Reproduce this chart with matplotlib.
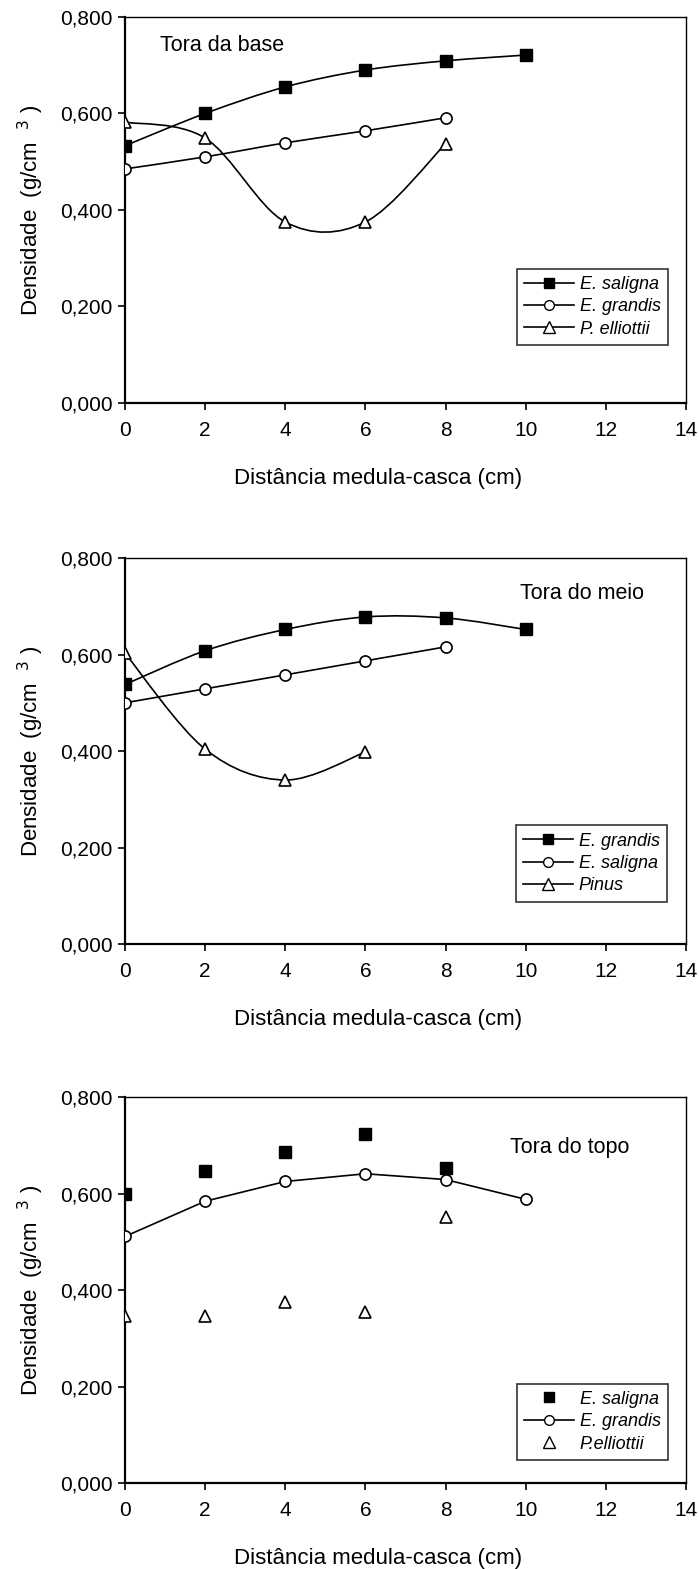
import matplotlib
matplotlib.use("Agg")
import matplotlib.pyplot as plt
from matplotlib.path import Path
from matplotlib.patches import PathPatch
from matplotlib.lines import Line2D
import numpy as np

plt.rcParams['font.family'] = ['Liberation Sans', 'DejaVu Sans']

# distancia medula-casca (cm)
x_base = [0, 2, 4, 6, 8, 10]
base_saligna = [0.533, 0.600, 0.655, 0.690, 0.709, 0.721]
base_grandis = [0.485, 0.510, 0.539, 0.564, 0.591]
base_elliottii = [0.582, 0.549, 0.375, 0.375, 0.537]

meio_grandis = [0.538, 0.608, 0.652, 0.678, 0.676, 0.652]
meio_saligna = [0.500, 0.529, 0.558, 0.587, 0.616]
meio_pinus = [0.603, 0.404, 0.340, 0.398]

topo_saligna = [0.600, 0.646, 0.687, 0.724, 0.653]
topo_grandis = [0.511, 0.584, 0.625, 0.641, 0.629, 0.588]
topo_elliottii = [0.347, 0.347, 0.376, 0.354, 0.552]

xticks = [0, 2, 4, 6, 8, 10, 12, 14]
yticks = [0.0, 0.2, 0.4, 0.6, 0.8]
ytick_labels = ['0,000', '0,200', '0,400', '0,600', '0,800']

FS = 15


def smooth_line(ax, x, y, zorder=2):
    # Excel-like smoothed line: cubic Bezier through the points
    p = np.column_stack([x, y]).astype(float)
    n = len(p)
    verts = [p[0]]
    codes = [Path.MOVETO]
    for i in range(n - 1):
        p0 = p[i - 1] if i > 0 else p[i]
        p3 = p[i + 2] if i + 2 < n else p[i + 1]
        c1 = p[i] + (p[i + 1] - p0) / 6.0
        c2 = p[i + 1] - (p3 - p[i]) / 6.0
        verts += [c1, c2, p[i + 1]]
        codes += [Path.CURVE4] * 3
    ax.add_patch(PathPatch(Path(verts, codes), fill=False, lw=1.2,
                           edgecolor='black', zorder=zorder))


def markers(ax, x, y, kind):
    if kind == 's':
        ax.plot(x, y, ls='none', marker='s', ms=8, mfc='black', mec='black', zorder=4)
    elif kind == 'o':
        ax.plot(x, y, ls='none', marker='o', ms=8, mfc='white', mec='black', mew=1.2, zorder=4)
    else:
        ax.plot(x, y, ls='none', marker='^', ms=9, mfc='white', mec='black', mew=1.2, zorder=4)


def style(ax, title, tx, ty):
    ax.set_xlim(0, 14)
    ax.set_ylim(0, 0.8)
    ax.set_xticks(xticks)
    ax.set_yticks(yticks)
    ax.set_yticklabels(ytick_labels)
    ax.tick_params(direction='out', length=5, width=1.2, labelsize=FS, pad=4)
    ax.tick_params(axis='x', pad=8)
    for s in ['left', 'bottom']:
        ax.spines[s].set_linewidth(1.6)
    for s in ['top', 'right']:
        ax.spines[s].set_linewidth(1.0)
    ax.set_ylabel('Densidade  (g/cm  $^{3}$ )', fontsize=16)
    ax.yaxis.set_label_coords(-0.14, 0.5)
    ax.set_xlabel('Distância medula-casca (cm)', fontsize=16)
    ax.xaxis.set_label_coords(0.451, -0.168)
    ax.text(tx, ty, title, transform=ax.transAxes, fontsize=15.5, va='center', ha='left')
    for lab in ax.get_xticklabels() + ax.get_yticklabels():
        lab.set_clip_on(False)


def legend(ax, handles, labels, bbox):
    leg = ax.legend(handles, labels, loc='lower right', bbox_to_anchor=bbox,
                    prop={'style': 'italic', 'size': 13}, frameon=True, fancybox=False,
                    edgecolor='black', handlelength=2.8, handletextpad=0.3,
                    borderpad=0.4, labelspacing=0.3, borderaxespad=0)
    leg.get_frame().set_linewidth(1.2)


def h(kind, line=True):
    if kind == 's':
        return Line2D([], [], color='black', lw=1.2 if line else 0, ls='-' if line else 'none',
                      marker='s', ms=7, mfc='black', mec='black')
    if kind == 'o':
        return Line2D([], [], color='black', lw=1.2 if line else 0, ls='-' if line else 'none',
                      marker='o', ms=7, mfc='white', mec='black')
    return Line2D([], [], color='black', lw=1.2 if line else 0, ls='-' if line else 'none',
                  marker='^', ms=8, mfc='white', mec='black')


fig = plt.figure(figsize=(6.99, 15.69), dpi=100)
L, W, H = 0.1788, 0.8026, 0.2460

# Tora da base
ax1 = fig.add_axes([L, 0.7432, W, H])
smooth_line(ax1, x_base, base_saligna)
smooth_line(ax1, x_base[:5], base_grandis)
smooth_line(ax1, x_base[:5], base_elliottii)
markers(ax1, x_base, base_saligna, 's')
markers(ax1, x_base[:5], base_grandis, 'o')
markers(ax1, x_base[:5], base_elliottii, '^')
style(ax1, 'Tora da base', 0.062, 0.927)
legend(ax1, [h('s'), h('o'), h('^')], ['E. saligna', 'E. grandis', 'P. elliottii'],
       (0.968, 0.150))

# Tora do meio
ax2 = fig.add_axes([L, 0.3983, W, H])
smooth_line(ax2, x_base, meio_grandis)
smooth_line(ax2, x_base[:5], meio_saligna)
smooth_line(ax2, x_base[:4], meio_pinus)
markers(ax2, x_base, meio_grandis, 's')
markers(ax2, x_base[:5], meio_saligna, 'o')
markers(ax2, x_base[:4], meio_pinus, '^')
style(ax2, 'Tora do meio', 0.704, 0.908)
legend(ax2, [h('s'), h('o'), h('^')], ['E. grandis', 'E. saligna', 'Pinus'],
       (0.966, 0.11))

# Tora do topo
ax3 = fig.add_axes([L, 0.0548, W, H])
ax3.plot(x_base, topo_grandis, color='black', lw=1.2, zorder=2)
markers(ax3, x_base[:5], topo_saligna, 's')
markers(ax3, x_base, topo_grandis, 'o')
markers(ax3, x_base[:5], topo_elliottii, '^')
style(ax3, 'Tora do topo', 0.686, 0.87)
legend(ax3, [h('s', False), h('o'), h('^', False)], ['E. saligna', 'E. grandis', 'P.elliottii'],
       (0.968, 0.06))

fig.savefig('out.png', dpi=100)
